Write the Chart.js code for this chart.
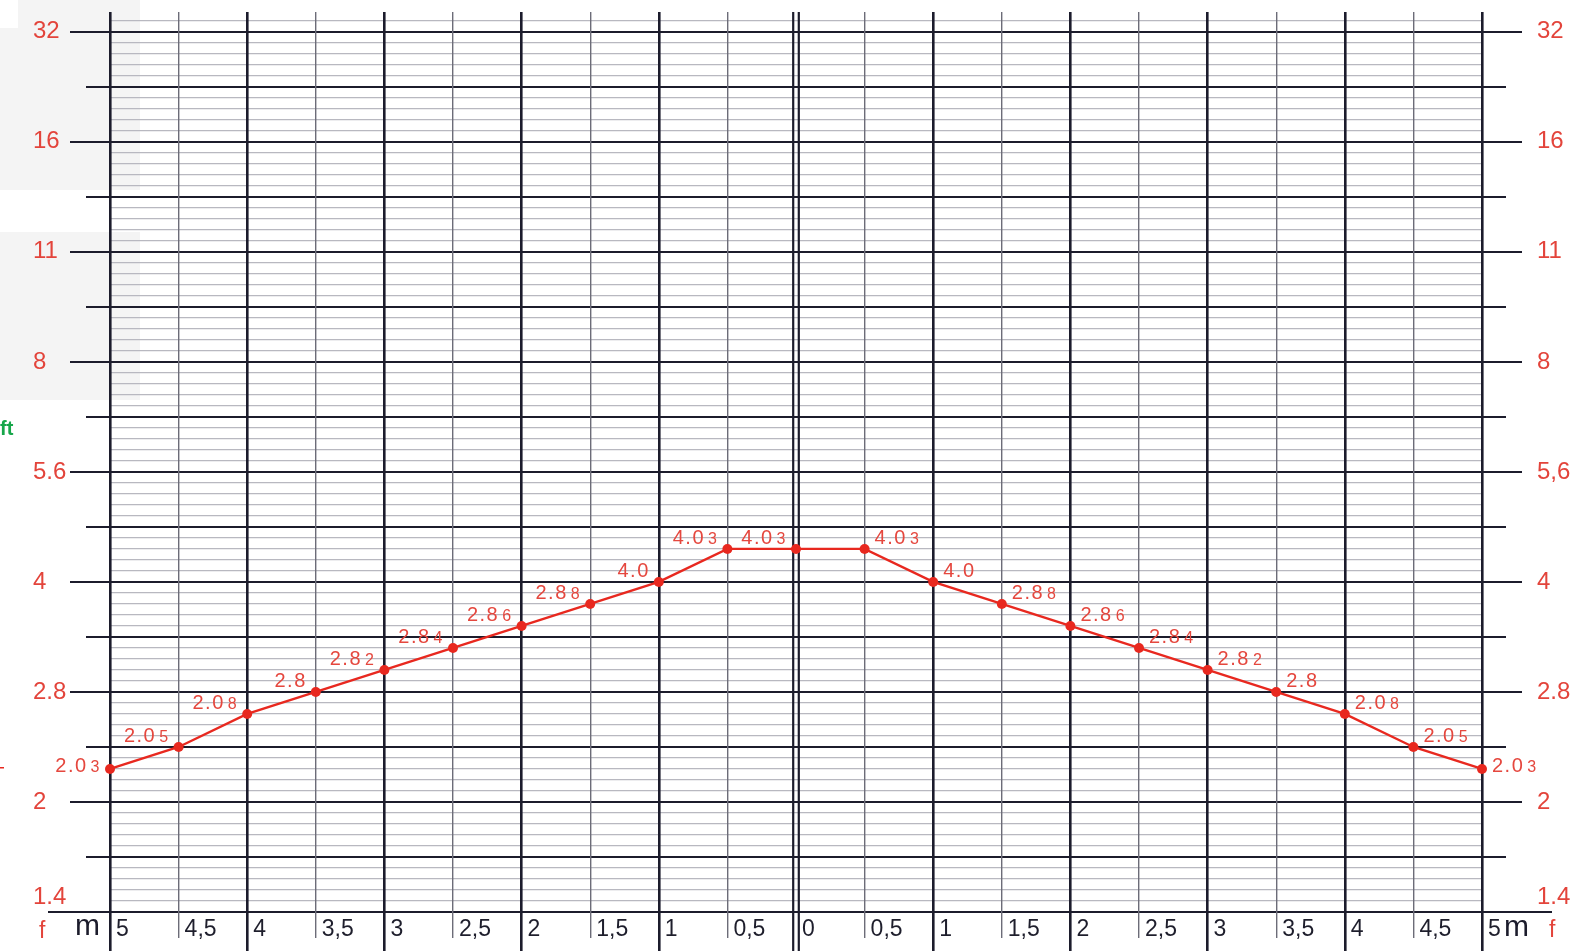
<!DOCTYPE html>
<html>
<head>
<meta charset="utf-8">
<script src="https://cdn.jsdelivr.net/npm/chart.js@4.4.1/dist/chart.umd.min.js"></script>
<style>
html, body { margin: 0; padding: 0; background: #fff; }
</style>
</head>
<body>
<canvas id="dofChart" width="1586" height="951"></canvas>
<script>
// distance in metres, the left half is stored as negative values
var distances = [-5, -4.5, -4, -3.5, -3, -2.5, -2, -1.5, -1, -0.5, 0, 0.5, 1, 1.5, 2, 2.5, 3, 3.5, 4, 4.5, 5];
// position on the f-stop scale (0 = 1.4, 1 = 2, 2 = 2.8, 3 = 4 ...)
var stopValues = [1.3, 1.5, 1.8, 2.0, 2.2, 2.4, 2.6, 2.8, 3.0, 3.3, 3.3, 3.3, 3.0, 2.8, 2.6, 2.4, 2.2, 2.0, 1.8, 1.5, 1.3];
var pointMain = ['2.0', '2.0', '2.0', '2.8', '2.8', '2.8', '2.8', '2.8', '4.0', '4.0', '4.0', '4.0', '4.0', '2.8', '2.8', '2.8', '2.8', '2.8', '2.0', '2.0', '2.0'];
var pointSub = ['3', '5', '8', '', '2', '4', '6', '8', '', '3', '3', '3', '', '8', '6', '4', '2', '', '8', '5', '3'];

var leftStops = ['1.4', '2', '2.8', '4', '5.6', '8', '11', '16', '32'];
var rightStops = ['1.4', '2', '2.8', '4', '5,6', '8', '11', '16', '32'];
var xTicks = [-5, -4.5, -4, -3.5, -3, -2.5, -2, -1.5, -1, -0.5, 0, 0.5, 1, 1.5, 2, 2.5, 3, 3.5, 4, 4.5, 5];
var xTickLabels = ['5', '4,5', '4', '3,5', '3', '2,5', '2', '1,5', '1', '0,5', '0', '0,5', '1', '1,5', '2', '2,5', '3', '3,5', '4', '4,5', '5'];

var DARK = '#1c1c2c';
var HALF_V = '#6c6c78';
var MINOR_H = '#b8b8c0';
var RED_AXIS = '#e3443b';
var RED_LINE = '#e8281f';
var RED_TEXT = '#e5473e';
var FONT = '"Liberation Sans", Arial, sans-serif';

// paper grid: one fine line every tenth of a stop
var yTickValues = [];
for (var i = 0; i <= 81; i++) {
    yTickValues.push(i / 10);
}

function isWhole(v) { return Math.abs(v - Math.round(v)) < 1e-6; }
function isHalf(v) { return isWhole(v * 2); }

function alignPx(chart, px, width) {
    var dpr = chart.currentDevicePixelRatio;
    var half = width / 2;
    return Math.round((px - half) * dpr) / dpr + half;
}

function line(ctx, x1, y1, x2, y2) {
    ctx.beginPath();
    ctx.moveTo(x1, y1);
    ctx.lineTo(x2, y2);
    ctx.stroke();
}

// fixed axis sizes so the plot lands where the paper grid is
function fixSize(w, h) {
    return function(s) {
        if (w !== null) s.width = w;
        if (h !== null) s.height = h;
        s.paddingLeft = 0;
        s.paddingRight = 0;
        s.paddingTop = 0;
        s.paddingBottom = 0;
    };
}

function stopLabel(stops) {
    return function(v) {
        if (!isWhole(v)) return '';
        var idx = Math.round(v);
        var s = stops[idx];
        // lowest label sits a bit above its line
        return idx === 0 ? [s, ''] : s;
    };
}

var paperPlugin = {
    id: 'paper',
    beforeDraw: function(chart) {
        var ctx = chart.ctx;
        ctx.save();
        ctx.fillStyle = '#fff';
        ctx.fillRect(0, 0, chart.width, chart.height);
        ctx.fillStyle = '#f4f4f4';
        ctx.fillRect(18, 0, 122, 28);
        ctx.fillRect(0, 28, 140, 162);
        ctx.fillRect(0, 232, 140, 168);
        ctx.restore();
    }
};

var outerTicksPlugin = {
    id: 'outerTicks',
    beforeDatasetsDraw: function(chart) {
        var ctx = chart.ctx, area = chart.chartArea;
        var xs = chart.scales.x, ys = chart.scales.y;
        ctx.save();
        xTicks.forEach(function(v) {
            var px = xs.getPixelForValue(v);
            if (v === 0) {
                ctx.strokeStyle = DARK;
                ctx.lineWidth = 2.2;
                line(ctx, px - 2.8, area.top, px - 2.8, chart.height);
                line(ctx, px + 2.8, area.top, px + 2.8, chart.height);
            } else if (isWhole(v)) {
                ctx.strokeStyle = DARK;
                ctx.lineWidth = 2.6;
                px = alignPx(chart, px, 2.6);
                line(ctx, px, area.bottom, px, chart.height);
            } else {
                ctx.strokeStyle = HALF_V;
                ctx.lineWidth = 1.4;
                px = alignPx(chart, px, 1.4);
                line(ctx, px, area.bottom, px, area.bottom + 26);
            }
        });
        ctx.strokeStyle = DARK;
        ctx.lineWidth = 2;
        yTickValues.forEach(function(v) {
            if (!isHalf(v)) return;
            var py = alignPx(chart, ys.getPixelForValue(v), 2);
            var lenL = v === 0 ? 62 : (isWhole(v) ? 40 : 24);
            var lenR = v === 0 ? 70 : (isWhole(v) ? 40 : 24);
            line(ctx, area.left - lenL, py, area.left, py);
            line(ctx, area.right, py, area.right + lenR, py);
        });
        ctx.restore();
    }
};

var pointLabelPlugin = {
    id: 'pointLabels',
    afterDatasetsDraw: function(chart) {
        var ctx = chart.ctx;
        var pts = chart.getDatasetMeta(0).data;
        ctx.save();
        ctx.fillStyle = RED_TEXT;
        ctx.textAlign = 'left';
        ctx.textBaseline = 'alphabetic';
        ctx.letterSpacing = '1.5px';
        pts.forEach(function(p, i) {
            var main = pointMain[i], sub = pointSub[i];
            ctx.font = '20px ' + FONT;
            var mw = ctx.measureText(main).width;
            ctx.font = '16px ' + FONT;
            var sw = sub ? ctx.measureText(sub).width + 3 : 0;
            var total = mw + sw;
            var x0 = distances[i] <= 0 ? p.x - 9 - total : p.x + 10;
            var isEnd = (i === 0 || i === pts.length - 1);
            var base = p.y + (isEnd ? 3 : -5);
            ctx.font = '20px ' + FONT;
            ctx.fillText(main, x0, base);
            if (sub) {
                ctx.font = '16px ' + FONT;
                ctx.fillText(sub, x0 + mw + 3, base);
            }
        });
        ctx.restore();
    }
};

var cornerTextPlugin = {
    id: 'cornerText',
    afterDraw: function(chart) {
        var ctx = chart.ctx;
        ctx.save();
        ctx.textAlign = 'left';
        ctx.textBaseline = 'alphabetic';
        ctx.fillStyle = RED_AXIS;
        ctx.font = '23px ' + FONT;
        ctx.fillText('f', 39, 938);
        ctx.fillText('f', 1549, 937);
        ctx.fillStyle = DARK;
        ctx.font = '30px ' + FONT;
        ctx.fillText('m', 75, 935);
        ctx.fillText('m', 1504, 936);
        ctx.fillStyle = '#17a64a';
        ctx.font = 'bold 20px ' + FONT;
        ctx.fillText('ft', 0, 435);
        ctx.fillStyle = RED_LINE;
        ctx.fillRect(0, 767, 4, 1.5);
        ctx.restore();
    }
};

var ctx = document.getElementById('dofChart').getContext('2d');
var dofChart = new Chart(ctx, {
    type: 'line',
    data: {
        datasets: [{
            data: distances.map(function(d, i) { return { x: d, y: stopValues[i] }; }),
            borderColor: RED_LINE,
            backgroundColor: RED_LINE,
            borderWidth: 2.4,
            pointRadius: 5,
            pointHoverRadius: 5,
            pointBorderWidth: 0,
            tension: 0,
            clip: false
        }]
    },
    options: {
        responsive: false,
        animation: false,
        events: [],
        layout: { autoPadding: false, padding: { left: 33, top: 12, right: 0, bottom: 0 } },
        plugins: {
            legend: { display: false },
            tooltip: { enabled: false }
        },
        scales: {
            x: {
                type: 'linear',
                position: 'bottom',
                min: -5,
                max: 5,
                afterBuildTicks: function(s) { s.ticks = xTicks.map(function(v) { return { value: v }; }); },
                afterFit: fixSize(null, 39),
                border: { display: false },
                grid: {
                    z: 0,
                    drawTicks: false,
                    color: function(c) {
                        var v = c.tick.value;
                        if (v === 0) return 'rgba(0,0,0,0)';
                        return isWhole(v) ? DARK : HALF_V;
                    },
                    lineWidth: function(c) { return isWhole(c.tick.value) ? 2.6 : 1.4; }
                },
                ticks: {
                    autoSkip: false,
                    maxRotation: 0,
                    minRotation: 0,
                    align: 'start',
                    labelOffset: 6,
                    padding: 4,
                    color: '#1e1e2c',
                    font: { family: FONT, size: 23 },
                    callback: function(v, idx) { return xTickLabels[idx]; }
                }
            },
            y: {
                type: 'linear',
                position: 'left',
                min: 0,
                max: 8.18,
                afterBuildTicks: function(s) { s.ticks = yTickValues.map(function(v) { return { value: v }; }); },
                afterFit: fixSize(77, null),
                border: { display: false },
                grid: {
                    z: -1,
                    drawTicks: false,
                    color: function(c) { return isHalf(c.tick.value) ? DARK : MINOR_H; },
                    lineWidth: function(c) { return isHalf(c.tick.value) ? 2 : 1.2; }
                },
                ticks: {
                    autoSkip: false,
                    crossAlign: 'far',
                    color: RED_AXIS,
                    font: { family: FONT, size: 24 },
                    callback: stopLabel(leftStops)
                }
            },
            yRight: {
                type: 'linear',
                position: 'right',
                min: 0,
                max: 8.18,
                afterBuildTicks: function(s) { s.ticks = yTickValues.map(function(v) { return { value: v }; }); },
                afterFit: fixSize(104, null),
                border: { display: false },
                grid: { display: false },
                ticks: {
                    autoSkip: false,
                    padding: 47,
                    color: RED_AXIS,
                    font: { family: FONT, size: 24 },
                    callback: stopLabel(rightStops)
                }
            }
        }
    },
    plugins: [paperPlugin, outerTicksPlugin, pointLabelPlugin, cornerTextPlugin]
});
</script>
</body>
</html>
